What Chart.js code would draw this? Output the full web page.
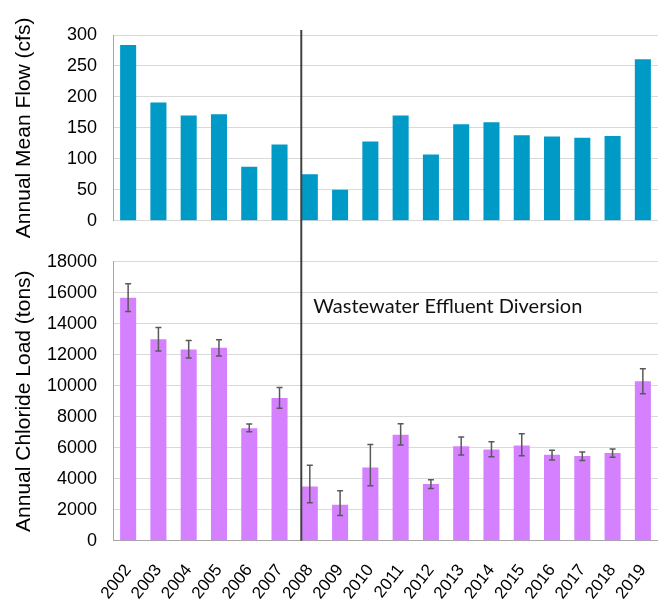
<!DOCTYPE html>
<html>
<head>
<meta charset="utf-8">
<script src="https://cdn.jsdelivr.net/npm/chart.js@4/dist/chart.umd.min.js"></script>
<style>
  html, body { margin: 0; padding: 0; background: #ffffff; }
  #wrap { position: relative; width: 658px; height: 600px; }
  canvas { position: absolute; left: 0; }
  #flowChart { top: 0; }
  #loadChart { top: 240px; }
</style>
</head>
<body>
<div id="wrap">
  <canvas id="flowChart" width="658" height="240"></canvas>
  <canvas id="loadChart" width="658" height="360"></canvas>
</div>
<script>
// Water years on the shared category axis
const years = ['2002', '2003', '2004', '2005', '2006', '2007', '2008', '2009', '2010',
               '2011', '2012', '2013', '2014', '2015', '2016', '2017', '2018', '2019'];

// Annual mean flow (cfs)
const meanFlow = [284, 191, 170, 172, 87, 123, 75, 50, 128, 170, 107, 156, 159, 138, 136, 134, 137, 261];

// Annual chloride load (tons) with upper / lower uncertainty
const chlorideLoad = [15680, 12990, 12340, 12450, 7250, 9200, 3500, 2320, 4730,
                      6840, 3660, 6090, 5890, 6150, 5550, 5460, 5660, 10280];
const loadErrUp   = [900, 770, 580, 520, 280, 690, 1360, 900, 1480, 710, 280, 600, 500, 750, 280, 260, 260, 820];
const loadErrDown = [900, 750, 560, 540, 220, 650, 1050, 690, 1180, 670, 300, 560, 470, 670, 340, 280, 280, 800];

// Axis ranges and steps
const flowAxis = { min: 0, max: 300, step: 50 };
const loadAxis = { min: 0, max: 18000, step: 2000 };

// Event marker
const diversionYear = '2008';
const diversionNote = 'Wastewater Effluent Diversion';

const FAMILY = 'Arial, "Liberation Sans", sans-serif';
const TICK_FONT = { family: FAMILY, size: 18 };
const TITLE_FONT = { family: FAMILY, size: 21 };
const GRID = '#d9d9d9';
const AXIS_LINE = '#a6a6a6';
const Y_AXIS_WIDTH = 113;

// x position of the left edge of the diversion-year bar
function diversionX(chart) {
  const meta = chart.getDatasetMeta(0);
  const bar = meta.data[years.indexOf(diversionYear)];
  const p = bar.getProps(['x', 'width'], true);
  return p.x - p.width / 2 - 0.5;
}

const diversionLine = {
  id: 'diversionLine',
  afterDatasetsDraw(chart, args, opts) {
    const ctx = chart.ctx;
    const x = diversionX(chart);
    const y0 = opts.fromTop ? 0 : chart.chartArea.top - 5;
    const y1 = opts.fromTop ? chart.chartArea.bottom : chart.height;
    ctx.save();
    ctx.strokeStyle = '#404040';
    ctx.lineWidth = 2;
    ctx.beginPath();
    ctx.moveTo(x, y0);
    ctx.lineTo(x, y1);
    ctx.stroke();
    if (opts.note) {
      ctx.fillStyle = '#111111';
      ctx.font = '20px Lato, "Open Sans", sans-serif';
      ctx.textAlign = 'left';
      ctx.textBaseline = 'middle';
      ctx.fillText(opts.note, x + 12, chart.scales.y.getPixelForValue(15100));
    }
    ctx.restore();
  }
};

const errorBars = {
  id: 'errorBars',
  afterDatasetsDraw(chart) {
    const ctx = chart.ctx;
    const yScale = chart.scales.y;
    const meta = chart.getDatasetMeta(0);
    ctx.save();
    ctx.strokeStyle = '#595959';
    ctx.lineWidth = 1.5;
    meta.data.forEach((bar, i) => {
      const x = bar.getProps(['x'], true).x;
      const yHi = yScale.getPixelForValue(chlorideLoad[i] + loadErrUp[i]);
      const yLo = yScale.getPixelForValue(chlorideLoad[i] - loadErrDown[i]);
      ctx.beginPath();
      ctx.moveTo(x, yHi); ctx.lineTo(x, yLo);
      ctx.moveTo(x - 3, yHi); ctx.lineTo(x + 3, yHi);
      ctx.moveTo(x - 3, yLo); ctx.lineTo(x + 3, yLo);
      ctx.stroke();
    });
    ctx.restore();
  }
};

function yScaleOptions(range, title) {
  return {
    min: range.min,
    max: range.max,
    ticks: {
      stepSize: range.step, color: '#000000', font: TICK_FONT, padding: 16,
      callback: (v) => String(v)
    },
    grid: { color: GRID, lineWidth: 1, drawTicks: false },
    border: { color: AXIS_LINE, width: 1 },
    title: { display: true, text: title, color: '#000000', font: TITLE_FONT, padding: { top: 12, bottom: 0 } },
    afterFit(scale) {
      scale.width = Y_AXIS_WIDTH;
      scale.paddingTop = 0;
      scale.paddingBottom = 0;
    }
  };
}

Chart.defaults.animation = false;

new Chart(document.getElementById('flowChart'), {
  type: 'bar',
  data: {
    labels: years,
    datasets: [{
      data: meanFlow,
      backgroundColor: '#009ac7',
      barPercentage: 0.53,
      categoryPercentage: 1.0
    }]
  },
  options: {
    responsive: false,
    layout: { padding: { top: 35, bottom: 19.3, left: 0, right: 0 } },
    plugins: { legend: { display: false }, tooltip: { enabled: false }, diversionLine: { fromTop: false } },
    scales: {
      x: { display: false },
      y: yScaleOptions(flowAxis, 'Annual Mean Flow (cfs)')
    }
  },
  plugins: [diversionLine]
});

new Chart(document.getElementById('loadChart'), {
  type: 'bar',
  data: {
    labels: years,
    datasets: [{
      data: chlorideLoad,
      backgroundColor: '#d580ff',
      barPercentage: 0.53,
      categoryPercentage: 1.0
    }]
  },
  options: {
    responsive: false,
    layout: { padding: { top: 21.7, bottom: 0, left: 0, right: 0 } },
    plugins: { legend: { display: false }, tooltip: { enabled: false }, diversionLine: { fromTop: true, note: diversionNote } },
    scales: {
      x: {
        grid: { display: false },
        border: { color: AXIS_LINE, width: 1 },
        ticks: { color: '#000000', font: { family: FAMILY, size: 17 }, minRotation: 52, maxRotation: 52, padding: 12 },
        afterFit(scale) { scale.height = 59.3; scale.paddingLeft = 0; scale.paddingRight = 0; }
      },
      y: yScaleOptions(loadAxis, 'Annual Chloride Load (tons)')
    }
  },
  plugins: [errorBars, diversionLine]
});
</script>
</body>
</html>
